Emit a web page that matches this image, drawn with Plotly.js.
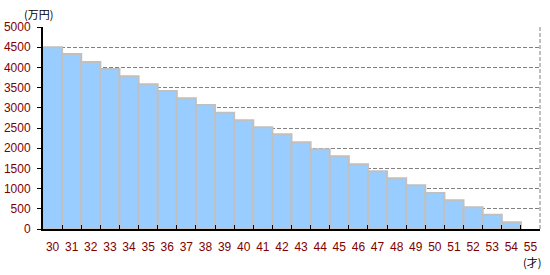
<!DOCTYPE html>
<html><head><meta charset="utf-8">
<script src="https://cdn.plot.ly/plotly-3.0.1.min.js"></script>
<style>html,body{margin:0;padding:0;background:#fff}#chart{width:550px;height:275px}</style>
</head><body><div id="chart"></div>
<script>
const ages = ["30","31","32","33","34","35","36","37","38","39","40","41","42","43","44","45","46","47","48","49","50","51","52","53","54","55"];
const amounts = [4500,4330,4135,3960,3780,3585,3415,3235,3069,2875,2690,2517,2348,2150,1972,1799,1601,1428,1254,1081,891,710,537,355,165,null];
const yTicks = [0,500,1000,1500,2000,2500,3000,3500,4000,4500,5000];
const yUnit = "(万円)";
const xUnit = "(才)";

const fontFam = "Liberation Sans, Arial, Noto Sans CJK JP, sans-serif";
const red = "#800000";

const trace = {
  type: "bar",
  x: ages,
  y: amounts,
  marker: {color: "#99ccff", line: {color: "#c0c0c0", width: 2}},
  hoverinfo: "none"
};

const layout = {
  width: 550, height: 275,
  margin: {l: 43, r: 10, t: 27, b: 46},
  paper_bgcolor: "#fff", plot_bgcolor: "#fff",
  bargap: 0,
  showlegend: false,
  font: {family: fontFam, size: 12, color: red},
  xaxis: {
    type: "category",
    range: [-0.5, 25.5],
    tickson: "boundaries",
    tickangle: 0,
    ticks: "inside", ticklen: 4, tickcolor: "#000", tickwidth: 1,
    showline: true, linecolor: "#000", linewidth: 2,
    showgrid: false, zeroline: false,
    tickfont: {family: fontFam, size: 12, color: red},
    ticklabelstandoff: 6,
    fixedrange: true
  },
  yaxis: {
    range: [0, 5000],
    tickvals: yTicks,
    ticktext: yTicks.map(String),
    ticks: "outside", ticklen: 4, tickcolor: "#000", tickwidth: 1,
    showline: true, linecolor: "#000", linewidth: 2,
    showgrid: true, gridcolor: "#808080", griddash: "4px,2px", gridwidth: 1,
    zeroline: false,
    tickfont: {family: fontFam, size: 12, color: red},
    ticklabelstandoff: 4,
    fixedrange: true
  },
  shapes: [
    {type: "line", xref: "paper", yref: "paper", x0: 1, x1: 1, y0: 0, y1: 1,
     line: {color: "#808080", width: 1, dash: "4px,2px"}}
  ],
  annotations: [
    {text: yUnit, xref: "paper", yref: "paper", x: 0, y: 1, xanchor: "center", yanchor: "middle", xshift: -5, yshift: 13,
     showarrow: false, font: {family: "Noto Sans CJK JP, sans-serif", size: 11, color: "#000"}},
    {text: xUnit, xref: "paper", yref: "paper", x: 1, y: 0, xanchor: "center", yanchor: "middle", xshift: -8, yshift: -33,
     showarrow: false, font: {family: "Noto Sans CJK JP, sans-serif", size: 11, color: "#000"}}
  ]
};

Plotly.newPlot("chart", [trace], layout, {displayModeBar: false, staticPlot: true});
</script></body></html>
